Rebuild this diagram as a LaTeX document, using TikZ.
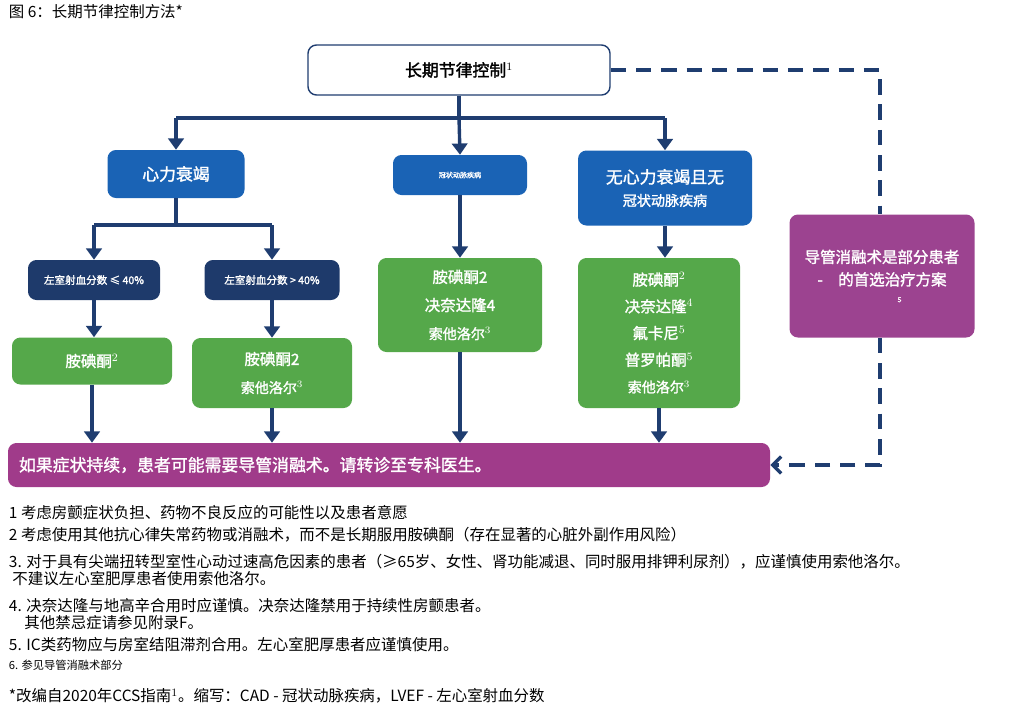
\documentclass[tikz,border=0pt]{standalone}
\usepackage{fontspec}
\setmainfont{Noto Sans CJK SC}
\newfontfamily\boxfont{Noto Sans CJK SC}[FakeBold=1.6]
\usetikzlibrary{arrows.meta,positioning}
\definecolor{navy}{HTML}{1F3D70}
\definecolor{hfblue}{HTML}{1A63B5}
\definecolor{efblue}{HTML}{1E3A6B}
\definecolor{drug}{HTML}{55A84A}
\definecolor{abl}{HTML}{A03B8A}
\definecolor{ablbox}{HTML}{9C4390}
\tikzset{
  box/.style={rounded corners=6pt, text=white, align=center, inner sep=0pt, execute at begin node=\boxfont},
  flow/.style={navy, line width=2.4pt, -{Triangle[width=11pt,length=8pt]}},
  link/.style={navy, line width=2.4pt},
  dashlink/.style={navy, line width=2.4pt, dash pattern=on 11pt off 7pt},
  note/.style={anchor=west, font=\fontsize{11}{12.5}\selectfont, align=left}
}
\begin{document}
\begin{tikzpicture}[x=0.025cm, y=-0.025cm]
  \useasboundingbox (0,0) rectangle (1024,718);
  % title
  \node[anchor=west, font=\fontsize{11}{13}\selectfont] (title) at (4,12) {图 6：长期节律控制方法*};

  % top box
  \node[box, draw=navy, line width=1pt, fill=white, text=black, minimum width=302*0.025cm,
    minimum height=50*0.025cm, font=\fontsize{12}{14}\selectfont] (rc) at (459,70) {长期节律控制$^{1}$};

  % level 1
  \node[box, fill=hfblue, minimum width=137*0.025cm, minimum height=48*0.025cm,
    font=\fontsize{12}{14}\selectfont] (hf) at (176,174) {心力衰竭};
  \node[box, fill=hfblue, minimum width=134*0.025cm, minimum height=40*0.025cm,
    font=\fontsize{5}{6}\selectfont] (cad) at (460,175) {冠状动脉疾病};
  \node[box, fill=hfblue, minimum width=174*0.025cm, minimum height=75*0.025cm,
    font=\fontsize{12}{17}\selectfont] (nohf) at (665,188) {无心力衰竭且无\\[-1pt]{\fontsize{10}{12}\selectfont 冠状动脉疾病}};

  % ejection fraction
  \node[box, fill=efblue, minimum width=132*0.025cm, minimum height=40*0.025cm,
    font=\fontsize{7.5}{9}\selectfont] (lo) at (94,280) {左室射血分数 ≤ 40\%};
  \node[box, fill=efblue, minimum width=135*0.025cm, minimum height=40*0.025cm,
    font=\fontsize{7.5}{9}\selectfont] (hi) at (272,280) {左室射血分数 > 40\%};

  % drugs
  \node[box, fill=drug, minimum width=160*0.025cm, minimum height=47*0.025cm,
    font=\fontsize{11}{14}\selectfont] (d1) at (92,361) {胺碘酮$^{2}$};
  \node[box, fill=drug, minimum width=160*0.025cm, minimum height=70*0.025cm,
    font=\fontsize{11}{20}\selectfont] (d2) at (272,373) {胺碘酮2\\{\fontsize{10}{12}\selectfont 索他洛尔$^{3}$}};
  \node[box, fill=drug, minimum width=164*0.025cm, minimum height=94*0.025cm,
    font=\fontsize{11}{20}\selectfont] (d3) at (460,305) {胺碘酮2\\决奈达隆4\\{\fontsize{10}{12}\selectfont 索他洛尔$^{3}$}};
  \node[box, fill=drug, minimum width=162*0.025cm, minimum height=150*0.025cm,
    font=\fontsize{11}{19}\selectfont] (d4) at (659,333) {胺碘酮$^{2}$\\决奈达隆$^{4}$\\氟卡尼$^{5}$\\普罗帕酮$^{5}$\\{\fontsize{10}{12}\selectfont 索他洛尔$^{3}$}};

  % referral bar
  \node[box, fill=abl, minimum width=762*0.025cm, minimum height=44*0.025cm, text width=740*0.025cm,
    align=left, font=\fontsize{12}{14}\selectfont] (refer) at (389,465) {如果症状持续，患者可能需要导管消融术。请转诊至专科医生。};

  % ablation box
  \node[box, fill=ablbox, minimum width=185*0.025cm, minimum height=123*0.025cm,
    font=\fontsize{11}{18}\selectfont] (first) at (882,276) {导管消融术是部分患者\\[-2pt]-\quad 的首选治疗方案\\[-6pt]{\fontsize{5}{6}\selectfont\hspace{5em}5}};

  % connectors
  \coordinate (split) at (459,118);
  \draw[link] (rc.south) -- (split);
  \draw[link] (hf.north |- split) -- (nohf.north |- split);
  \draw[flow] (hf.north |- split) -- (hf.north);
  \draw[flow] (split) -- (cad.north);
  \draw[flow] (nohf.north |- split) -- (nohf.north);
  \coordinate (efsplit) at (176,225);
  \draw[link] (hf.south) -- (efsplit);
  \draw[link] (lo.north |- efsplit) -- (hi.north |- efsplit);
  \draw[flow] (lo.north |- efsplit) -- (lo.north);
  \draw[flow] (hi.north |- efsplit) -- (hi.north);
  \draw[flow] (lo) -- (lo |- d1.north);
  \draw[flow] (hi) -- (hi |- d2.north);
  \draw[flow] (cad) -- (cad |- d3.north);
  \draw[flow] (nohf) -- (nohf |- d4.north);
  \foreach \d in {d1,d2,d3,d4}
    \draw[flow] (\d.south) -- (\d.south |- refer.north);

  % dashed path to ablation
  \coordinate (corner1) at (880,70);
  \coordinate (corner2) at (880,465);
  \draw[dashlink] (rc.east) -- (corner1) -- (first.north -| corner1);
  \draw[dashlink, -{Straight Barb[length=6pt,width=12pt]}] (first.south -| corner1) -- (corner2) -- (refer.east);

  % footnotes
  \node[note] (n1) at (4,513) {1 考虑房颤症状负担、药物不良反应的可能性以及患者意愿};
  \node[note] (n2) at (4,535) {2 考虑使用其他抗心律失常药物或消融术，而不是长期服用胺碘酮（存在显著的心脏外副作用风险）};
  \node[note] (n3) at (4,570) {3. 对于具有尖端扭转型室性心动过速高危因素的患者（≥65岁、女性、肾功能减退、同时服用排钾利尿剂），应谨慎使用索他洛尔。\\\ 不建议左心室肥厚患者使用索他洛尔。};
  \node[note] (n4) at (4,614) {4. 决奈达隆与地高辛合用时应谨慎。决奈达隆禁用于持续性房颤患者。\\\quad 其他禁忌症请参见附录F。};
  \node[note] (n5) at (4,645) {5. IC类药物应与房室结阻滞剂合用。左心室肥厚患者应谨慎使用。};
  \node[note, font=\fontsize{8}{10}\selectfont] (n6) at (4,665) {6. 参见导管消融术部分};
  \node[note] (n7) at (4,696) {*改编自2020年CCS指南$^{1}$。缩写：CAD - 冠状动脉疾病，LVEF - 左心室射血分数};
\end{tikzpicture}
\end{document}
